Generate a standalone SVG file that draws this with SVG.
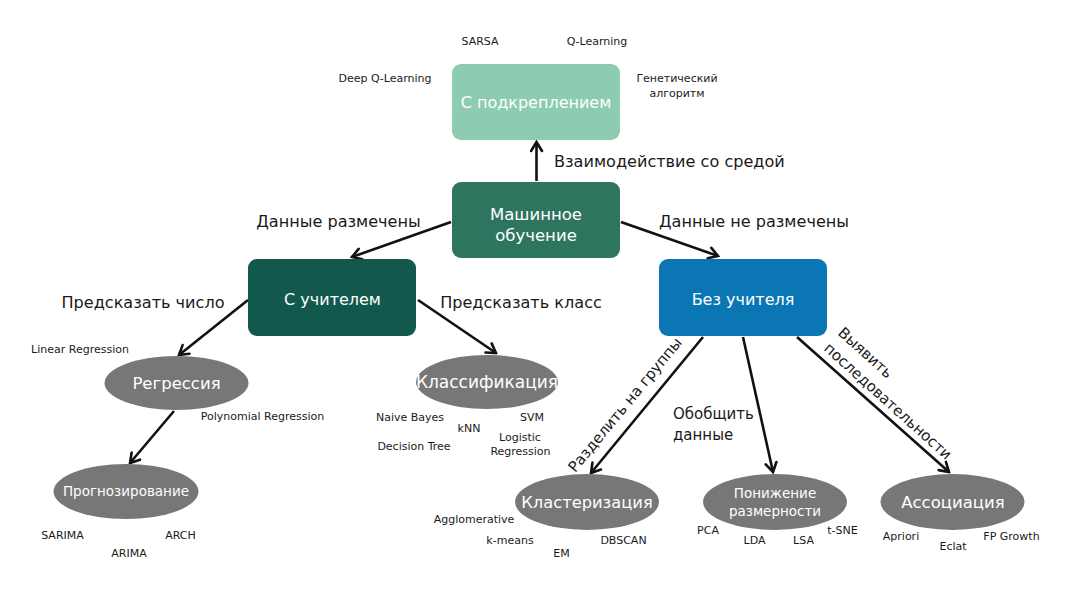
<svg xmlns="http://www.w3.org/2000/svg" width="1076" height="593" viewBox="0 0 1076 593">
<defs>
<marker id="arr" viewBox="0 0 14 14" refX="12" refY="7" markerWidth="14" markerHeight="14" orient="auto" markerUnits="userSpaceOnUse">
<path d="M3,1.5 L12,7 L3,12.5" fill="none" stroke="#111" stroke-width="2.6" stroke-linecap="round" stroke-linejoin="miter"/>
</marker>
</defs>
<style>
text{font-family:"DejaVu Sans","Noto Sans",sans-serif;}
.bg{fill:#ffffff;}
.lbl{fill:#1a1a1a;font-size:16.1px;}
.lbl2{fill:#1a1a1a;font-size:15px;}
.sm{fill:#1a1a1a;font-size:11px;}
.nt{fill:#ffffff;text-anchor:middle;}
.c{text-anchor:middle;}
.ell{fill:#777777;}
.edge{stroke:#111;stroke-width:2.6;fill:none;marker-end:url(#arr);}
</style>
<rect class="bg" x="0" y="0" width="1076" height="593"/>

<g id="connectors">
<line class="edge" x1="536.5" y1="181" x2="536.5" y2="142"/>
<line class="edge" x1="451" y1="222" x2="352" y2="257"/>
<line class="edge" x1="621" y1="222" x2="718" y2="256"/>
<line class="edge" x1="248" y1="300" x2="179" y2="355"/>
<line class="edge" x1="418" y1="300" x2="496" y2="353"/>
<line class="edge" x1="174" y1="411" x2="130" y2="463"/>
<line class="edge" x1="703" y1="337" x2="591" y2="473"/>
<line class="edge" x1="743" y1="337" x2="773" y2="472"/>
<line class="edge" x1="797" y1="337" x2="949" y2="472"/>
</g>

<g id="edge-labels">
<text class="lbl" x="554" y="166.5">Взаимодействие со средой</text>
<text class="lbl c" x="338.5" y="226.5">Данные размечены</text>
<text class="lbl c" x="754" y="226.5">Данные не размечены</text>
<text class="lbl c" x="143" y="308">Предсказать число</text>
<text class="lbl c" x="521" y="308">Предсказать класс</text>
<text class="lbl2" x="673" y="419">Обобщить</text>
<text class="lbl2" x="673" y="440">данные</text>
<text class="lbl2 c" transform="translate(629,408) rotate(-50.5)">Разделить на группы</text>
<g transform="translate(837,334) rotate(42)">
<text class="lbl2" x="0" y="0">Выявить</text>
<text class="lbl2" x="0" y="21">последовательности</text>
</g>
</g>

<g id="node-reinforcement">
<rect x="452" y="64" width="168" height="76" rx="9" fill="#8ccdb1"/>
<text class="nt" x="536" y="108" font-size="16">С подкреплением</text>
<text class="sm c" x="480" y="45">SARSA</text>
<text class="sm c" x="597" y="45">Q-Learning</text>
<text class="sm c" x="385" y="82">Deep Q-Learning</text>
<text class="sm c" x="677" y="82">Генетический</text>
<text class="sm c" x="677" y="97">алгоритм</text>
</g>

<g id="node-ml">
<rect x="452" y="182" width="168" height="76" rx="9" fill="#2e7560"/>
<text class="nt" x="536" y="219.5" font-size="16.5">Машинное</text>
<text class="nt" x="536" y="240.5" font-size="16.5">обучение</text>
</g>

<g id="node-supervised">
<rect x="248" y="259" width="168" height="77" rx="9" fill="#12584c"/>
<text class="nt" x="332.5" y="305" font-size="16">С учителем</text>
</g>

<g id="node-unsupervised">
<rect x="659" y="259" width="168" height="77" rx="9" fill="#0a77b4"/>
<text class="nt" x="743" y="305" font-size="16">Без учителя</text>
</g>

<g id="node-regression">
<ellipse class="ell" cx="176.5" cy="383" rx="72" ry="27"/>
<text class="nt" x="176.5" y="389" font-size="16.5">Регрессия</text>
<text class="sm c" x="80" y="353">Linear Regression</text>
<text class="sm c" x="262.5" y="420">Polynomial Regression</text>
</g>

<g id="node-forecasting">
<ellipse class="ell" cx="126" cy="491.5" rx="72.5" ry="27.5"/>
<text class="nt" x="126" y="496" font-size="13.5">Прогнозирование</text>
<text class="sm c" x="62.5" y="539">SARIMA</text>
<text class="sm c" x="180.5" y="539">ARCH</text>
<text class="sm c" x="129" y="556.5">ARIMA</text>
</g>

<g id="node-classification">
<ellipse class="ell" cx="487" cy="382" rx="71" ry="27"/>
<text class="nt" x="487" y="388" font-size="17">Классификация</text>
<text class="sm c" x="410" y="421">Naive Bayes</text>
<text class="sm c" x="532" y="421">SVM</text>
<text class="sm c" x="469" y="431.5">kNN</text>
<text class="sm c" x="520" y="441">Logistic</text>
<text class="sm c" x="520.5" y="455">Regression</text>
<text class="sm c" x="414" y="449.5">Decision Tree</text>
</g>

<g id="node-clustering">
<ellipse class="ell" cx="587" cy="502" rx="72" ry="28"/>
<text class="nt" x="587" y="508" font-size="16.3">Кластеризация</text>
<text class="sm c" x="474" y="522.5">Agglomerative</text>
<text class="sm c" x="510" y="544">k-means</text>
<text class="sm c" x="561.5" y="556.5">EM</text>
<text class="sm c" x="623.5" y="544">DBSCAN</text>
</g>

<g id="node-dimred">
<ellipse class="ell" cx="775" cy="502" rx="72" ry="28"/>
<text class="nt" x="775" y="497.5" font-size="13.5">Понижение</text>
<text class="nt" x="775" y="515.5" font-size="13.5">размерности</text>
<text class="sm c" x="708" y="534">PCA</text>
<text class="sm c" x="754.5" y="543.5">LDA</text>
<text class="sm c" x="803.5" y="543.5">LSA</text>
<text class="sm c" x="842.5" y="534">t-SNE</text>
</g>

<g id="node-association">
<ellipse class="ell" cx="952.5" cy="502" rx="72" ry="28"/>
<text class="nt" x="953" y="508" font-size="16.5">Ассоциация</text>
<text class="sm c" x="901" y="540">Apriori</text>
<text class="sm c" x="953" y="550">Eclat</text>
<text class="sm c" x="1011.5" y="540">FP Growth</text>
</g>
</svg>
